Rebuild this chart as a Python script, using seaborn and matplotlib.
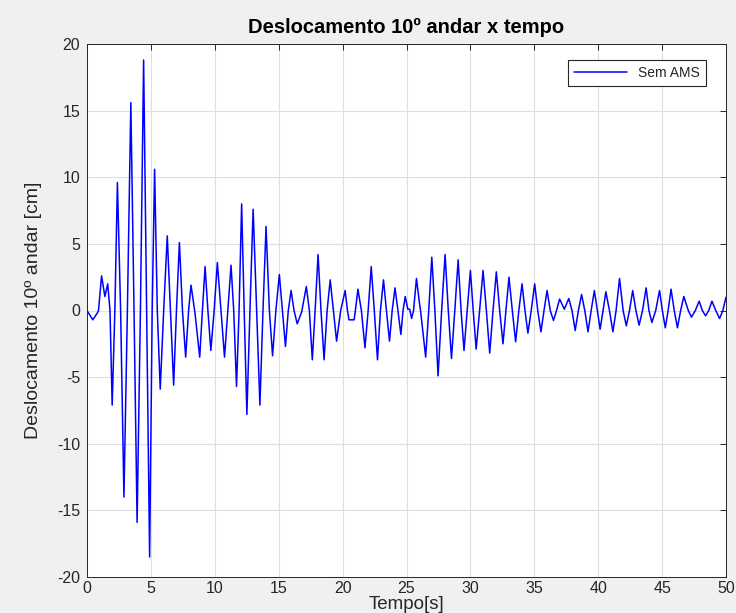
import numpy as np
import pandas as pd
import matplotlib
matplotlib.use("Agg")
import matplotlib.pyplot as plt
import seaborn as sns

# Readings from the reference: peaks, troughs and zero crossings (time [s], displacement [cm])
tempo = [0.0, 0.45, 0.8, 0.9, 1.14, 1.4, 1.62, 1.8, 1.97, 2.18, 2.38, 2.63, 2.89, 3.16,
         3.43, 3.68, 3.92, 4.18, 4.43, 4.67, 4.90, 5.10, 5.29, 5.50, 5.73, 6.0, 6.28,
         6.53, 6.78, 7.0, 7.23, 7.47, 7.72, 7.95, 8.14, 8.45, 8.82, 9.03, 9.24, 9.46,
         9.69, 9.95, 10.2, 10.48, 10.76, 11.02, 11.27, 11.48, 11.7, 11.9, 12.1, 12.3,
         12.51, 12.75, 13.0, 13.27, 13.53, 13.77, 14.01, 14.27, 14.52, 14.78, 15.05,
         15.29, 15.53, 15.75, 15.97, 16.2, 16.45, 16.8, 17.16, 17.4, 17.63, 17.85,
         18.08, 18.31, 18.55, 18.79, 19.03, 19.28, 19.53, 19.85, 20.2, 20.38, 20.5,
         20.9, 21.0, 21.2, 21.47, 21.75, 22.0, 22.24, 22.48, 22.73, 22.96, 23.2, 23.43,
         23.67, 23.88, 24.1, 24.33, 24.56, 24.73, 24.9, 25.1, 25.25, 25.4, 25.55, 25.78,
         26.04, 26.1, 26.5, 26.74, 26.98, 27.22, 27.47, 27.75, 28.02, 28.27, 28.52,
         28.78, 29.04, 29.27, 29.5, 29.75, 30.0, 30.22, 30.45, 30.72, 30.99, 31.25,
         31.51, 31.77, 32.03, 32.29, 32.55, 32.78, 33.02, 33.28, 33.54, 33.79, 34.04,
         34.27, 34.5, 34.76, 35.03, 35.27, 35.52, 35.76, 36.0, 36.25, 36.5, 36.74,
         36.98, 37.35, 37.7, 37.95, 38.2, 38.45, 38.7, 38.95, 39.2, 39.45, 39.7, 39.93,
         40.15, 40.38, 40.6, 40.88, 41.15, 41.4, 41.67, 41.95, 42.2, 42.45, 42.7, 42.95,
         43.2, 43.47, 43.75, 43.97, 44.2, 44.5, 44.8, 45.02, 45.25, 45.47, 45.7, 45.95,
         46.2, 46.45, 46.7, 47.05, 47.3, 47.6, 47.9, 48.15, 48.4, 48.65, 48.9, 49.2,
         49.5, 49.75, 50.0]
desloc = [0.0, -0.7, -0.2, 0.0, 2.6, 1.05, 2.0, 0.0, -7.1, 0.0, 9.6, 0.0, -14.0, 0.0,
          15.6, 0.0, -15.9, 0.0, 18.8, 0.0, -18.5, 0.0, 10.6, 0.0, -5.9, 0.0, 5.6,
          0.0, -5.6, 0.0, 5.1, 0.0, -3.5, 0.0, 1.9, -0.2, -3.5, 0.0, 3.3, 0.0,
          -3.0, 0.0, 3.6, 0.0, -3.5, 0.0, 3.4, 0.0, -5.7, 0.0, 8.0, 0.0,
          -7.8, 0.0, 7.6, 0.0, -7.1, 0.0, 6.3, 0.0, -3.4, 0.0, 2.7,
          0.0, -2.7, 0.0, 1.5, 0.0, -1.0, -0.1, 1.8, 0.0, -3.7, 0.0,
          4.2, 0.0, -3.7, 0.0, 2.3, 0.0, -2.3, 0.0, 1.5, 0.0, -0.7,
          -0.7, 0.0, 1.6, 0.0, -2.8, 0.0, 3.3, 0.0, -3.7, 0.0, 2.3, 0.0,
          -2.3, 0.0, 1.7, 0.0, -1.8, 0.0, 1.05, 0.1, 0.1, -0.6, 0.0, 2.4,
          0.35, 0.0, -3.5, 0.0, 4.0, 0.0, -4.9, 0.0, 4.2, 0.0, -3.6,
          0.0, 3.8, 0.0, -3.0, 0.0, 3.0, 0.0, -2.9, 0.0, 3.0, 0.0,
          -3.2, 0.0, 2.9, 0.0, -2.5, 0.0, 2.5, 0.0, -2.35, 0.0, 2.0,
          0.0, -1.7, 0.0, 2.0, 0.0, -1.6, 0.0, 1.5, 0.0, -0.75, 0.0,
          0.86, 0.1, 0.9, 0.0, -1.5, 0.0, 1.2, 0.0, -1.6, 0.0, 1.5, 0.0,
          -1.4, 0.0, 1.4, 0.0, -1.6, 0.0, 2.4, 0.0, -1.15, 0.0, 1.5, 0.0,
          -1.1, 0.0, 1.7, 0.0, -0.9, 0.0, 1.5, 0.0, -1.3, 0.0, 1.6, 0.0,
          -1.3, 0.0, 1.05, 0.0, -0.5, 0.0, 0.7, 0.0, -0.4, 0.0, 0.7, 0.0,
          -0.6, 0.0, 1.0]

x_ticks = [0, 5, 10, 15, 20, 25, 30, 35, 40, 45, 50]
y_ticks = [-20, -15, -10, -5, 0, 5, 10, 15, 20]
serie = "Sem AMS"

df = pd.DataFrame({"Tempo": tempo, "Desloc": desloc})

sns.set_style("white")
plt.rcParams['font.family'] = ['Liberation Sans', 'DejaVu Sans']

fig = plt.figure(figsize=(7.36, 6.13), dpi=100, facecolor="#F0F0F0")
ax = fig.add_axes([87/736, 1 - 577/613, 639/736, 533/613])
ax.set_facecolor("white")

sns.lineplot(data=df, x="Tempo", y="Desloc", color=(0, 0, 1), linewidth=1.1,
             label=serie, ax=ax, sort=False, estimator=None)

ax.set_xlim(0, 50)
ax.set_ylim(-20, 20)
ax.set_xticks(x_ticks)
ax.set_yticks(y_ticks)
ax.set_xticklabels([str(v) for v in x_ticks])
ax.set_yticklabels([str(v) for v in y_ticks])
ax.grid(True, color="#DFDFDF", linewidth=0.8)
ax.set_axisbelow(True)
ax.tick_params(direction="in", length=4, width=0.7, colors="#262626",
               labelsize=11.5, top=True, right=True)
ax.tick_params(axis="x", pad=3)
ax.tick_params(axis="y", pad=5)
for s in ax.spines.values():
    s.set_color("#262626")
    s.set_linewidth(0.7)

ax.set_xlabel("Tempo[s]", fontsize=13.5, color="#262626", labelpad=0)
ax.set_ylabel("Deslocamento 10º andar [cm]", fontsize=14, color="#262626", labelpad=11)
ax.set_title("Deslocamento 10º andar x tempo", fontsize=14.5, fontweight="bold",
             color="black", pad=8)

leg = ax.legend(loc="upper right", fontsize=10, frameon=True, fancybox=False,
                edgecolor="#262626", framealpha=1, handlelength=3.8,
                borderpad=0.45, borderaxespad=0, bbox_to_anchor=(0.9687, 0.970))
leg.get_frame().set_linewidth(0.8)

fig.savefig("out.png", dpi=100, facecolor=fig.get_facecolor())
